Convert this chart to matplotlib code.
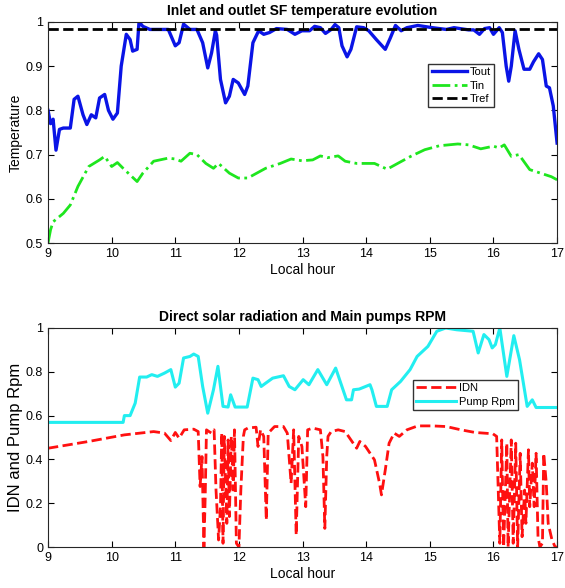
import numpy as np
import matplotlib
matplotlib.use('Agg')
import matplotlib.pyplot as plt

plt.rcParams['font.family'] = ['Liberation Sans', 'DejaVu Sans']

# top panel: outlet / inlet temperature (normalised)
tout_t = [9.0, 9.04, 9.08, 9.125, 9.18, 9.24, 9.35, 9.41, 9.47, 9.55, 9.61, 9.68, 9.75, 9.81,
          9.89, 9.95, 10.02, 10.09, 10.15, 10.23, 10.29, 10.33, 10.40, 10.43, 10.49, 10.60,
          10.89, 11.0, 11.06, 11.13, 11.23, 11.34, 11.43, 11.51, 11.57, 11.63, 11.65, 11.71,
          11.79, 11.85, 11.91, 11.99, 12.09, 12.14, 12.22, 12.31, 12.39, 12.48, 12.59, 12.76,
          12.88, 12.99, 13.11, 13.19, 13.28, 13.36, 13.45, 13.51, 13.57, 13.62, 13.70, 13.76,
          13.85, 13.96, 14.04, 14.16, 14.30, 14.38, 14.46, 14.55, 14.64, 14.81, 15.04, 15.26,
          15.38, 15.61, 15.69, 15.78, 15.86, 15.94, 16.0, 16.09, 16.14, 16.20, 16.24, 16.28,
          16.34, 16.40, 16.48, 16.57, 16.63, 16.71, 16.77, 16.83, 16.88, 16.94, 17.0]
tout_v = [0.80, 0.77, 0.78, 0.71, 0.757, 0.76, 0.76, 0.825, 0.832, 0.79, 0.768, 0.79, 0.783, 0.828,
          0.836, 0.80, 0.78, 0.794, 0.90, 0.972, 0.96, 0.934, 0.938, 1.0, 0.99, 0.983,
          0.983, 0.946, 0.953, 0.995, 0.983, 0.983, 0.953, 0.896, 0.93, 0.98, 0.97, 0.87,
          0.817, 0.832, 0.87, 0.862, 0.836, 0.855, 0.953, 0.98, 0.972, 0.976, 0.985, 0.983,
          0.972, 0.98, 0.98, 0.99, 0.987, 0.974, 0.983, 0.994, 0.987, 0.946, 0.921, 0.938,
          0.989, 0.987, 0.98, 0.96, 0.938, 0.964, 0.992, 0.98, 0.987, 0.992, 0.987, 0.983,
          0.987, 0.982, 0.982, 0.972, 0.985, 0.987, 0.972, 0.987, 0.976, 0.90, 0.866, 0.90,
          0.98, 0.938, 0.893, 0.893, 0.91, 0.928, 0.915, 0.855, 0.851, 0.81, 0.726]

tin_t = [9.0, 9.04, 9.08, 9.24, 9.35, 9.47, 9.64, 9.81, 9.89, 10.0, 10.09, 10.18, 10.40, 10.49,
         10.66, 10.89, 11.0, 11.09, 11.23, 11.34, 11.48, 11.60, 11.68, 11.85, 11.99, 12.14,
         12.42, 12.65, 12.82, 12.99, 13.16, 13.28, 13.39, 13.56, 13.67, 13.85, 14.13, 14.33,
         14.52, 14.70, 14.92, 15.15, 15.44, 15.61, 15.80, 16.0, 16.09, 16.17, 16.28, 16.40,
         16.57, 16.74, 16.91, 17.0]
tin_v = [0.50, 0.53, 0.548, 0.567, 0.586, 0.628, 0.673, 0.688, 0.696, 0.673, 0.682, 0.669, 0.639, 0.658,
         0.685, 0.692, 0.69, 0.685, 0.703, 0.70, 0.68, 0.669, 0.68, 0.658, 0.647, 0.647,
         0.669, 0.68, 0.69, 0.686, 0.688, 0.697, 0.693, 0.697, 0.685, 0.68, 0.68, 0.667,
         0.682, 0.696, 0.711, 0.72, 0.724, 0.722, 0.713, 0.719, 0.715, 0.722, 0.696, 0.70,
         0.666, 0.658, 0.65, 0.643]

tref = 0.985

# bottom panel: pump speed and direct normal irradiance (normalised)
rpm_t = [9.0, 10.18, 10.2, 10.29, 10.37, 10.44, 10.55, 10.63, 10.72, 10.83, 10.93, 11.0, 11.06,
         11.13, 11.23, 11.29, 11.36, 11.43, 11.51, 11.60, 11.67, 11.75, 11.83, 11.87, 11.94,
         12.13, 12.22, 12.30, 12.35, 12.42, 12.53, 12.70, 12.79, 12.88, 13.01, 13.10, 13.24,
         13.38, 13.52, 13.69, 13.77, 13.80, 13.89, 14.06, 14.09, 14.16, 14.33, 14.40, 14.54,
         14.69, 14.80, 14.97, 15.11, 15.25, 15.42, 15.68, 15.76, 15.85, 15.93, 15.98, 16.03,
         16.10, 16.21, 16.32, 16.41, 16.53, 16.61, 16.67, 17.0]
rpm_v = [0.569, 0.569, 0.60, 0.60, 0.657, 0.776, 0.776, 0.787, 0.779, 0.794, 0.81, 0.73, 0.748,
         0.863, 0.87, 0.881, 0.87, 0.733, 0.611, 0.718, 0.825, 0.642, 0.639, 0.695, 0.639,
         0.639, 0.771, 0.764, 0.733, 0.748, 0.771, 0.782, 0.733, 0.718, 0.764, 0.741, 0.81,
         0.741, 0.817, 0.672, 0.672, 0.718, 0.721, 0.741, 0.718, 0.642, 0.642, 0.718, 0.756,
         0.81, 0.87, 0.916, 0.985, 1.0, 0.992, 0.985, 0.886, 0.97, 0.947, 0.909, 0.924,
         1.0, 0.779, 0.965, 0.855, 0.642, 0.672, 0.637, 0.637]

idn_t = [9.0, 9.64, 10.2, 10.66, 10.83, 10.93, 11.0, 11.06, 11.14, 11.29, 11.36, 11.39, 11.42,
         11.45, 11.47, 11.49, 11.53, 11.57, 11.61, 11.64, 11.67, 11.68, 11.71, 11.73, 11.75,
         11.77, 11.81, 11.83, 11.85, 11.88, 11.91, 11.93, 11.96, 12.0, 12.03, 12.07, 12.09,
         12.14, 12.27, 12.30, 12.34, 12.39, 12.43, 12.46, 12.56, 12.70, 12.76, 12.82, 12.86,
         12.90, 12.94, 12.99, 13.05, 13.08, 13.16, 13.28, 13.32, 13.35, 13.38, 13.40, 13.45,
         13.56, 13.67, 13.76, 13.85, 13.90, 13.99, 14.13, 14.21, 14.24, 14.30, 14.36, 14.44,
         14.52, 14.64, 14.81, 15.04, 15.26, 15.49, 15.71, 15.99, 16.05, 16.10, 16.13, 16.16,
         16.21, 16.23, 16.28, 16.31, 16.35, 16.38, 16.42, 16.45, 16.49, 16.51, 16.55, 16.57,
         16.61, 16.64, 16.67, 16.70, 16.73, 16.77, 16.79, 16.83, 16.86, 16.92, 16.97, 17.0]
idn_v = [0.451, 0.482, 0.512, 0.527, 0.52, 0.486, 0.523, 0.497, 0.535, 0.538, 0.527, 0.276, 0.413,
         0.0, 0.23, 0.535, 0.527, 0.52, 0.535, 0.26, 0.093, 0.032, 0.184, 0.52, 0.017,
         0.505, 0.108, 0.489, 0.139, 0.505, 0.26, 0.535, 0.017, 0.0, 0.26, 0.505, 0.535,
         0.543, 0.547, 0.459, 0.535, 0.505, 0.123, 0.52, 0.55, 0.55, 0.52, 0.291, 0.535,
         0.055, 0.505, 0.459, 0.184, 0.535, 0.543, 0.535, 0.413, 0.085, 0.413, 0.505, 0.527,
         0.535, 0.527, 0.489, 0.451, 0.482, 0.459, 0.398, 0.291, 0.238, 0.352, 0.474, 0.52,
         0.505, 0.535, 0.553, 0.553, 0.55, 0.535, 0.523, 0.517, 0.505, 0.017, 0.489, 0.0,
         0.474, 0.0, 0.489, 0.017, 0.474, 0.0, 0.428, 0.047, 0.26, 0.108, 0.444, 0.184,
         0.383, 0.184, 0.428, 0.047, 0.0, 0.017, 0.428, 0.291, 0.108, 0.032, 0.0, 0.0]

hour_ticks = list(range(9, 18))


def style_axes(ax):
    ax.set_xlim(9, 17)
    ax.set_xticks(hour_ticks)
    ax.tick_params(direction='in', top=True, right=True, labelsize=9, length=4, width=0.8)
    for s in ax.spines.values():
        s.set_linewidth(0.8)
        s.set_color('#262626')
    ax.set_xlabel('Local hour', fontsize=10, labelpad=2)


fig = plt.figure(figsize=(5.65, 5.88), dpi=100)

ax1 = fig.add_axes([0.085, 0.5867, 0.901, 0.376])
ax1.plot(tout_t, tout_v, color='#0a14e6', lw=2.4, label='Tout')
ax1.plot(tin_t, tin_v, color='#1ee61e', lw=2.0, ls='-.', label='Tin')
ax1.plot([9, 17], [tref, tref], color='black', lw=2.0, ls='--', label='Tref')
ax1.set_ylim(0.5, 1.0)
ax1.set_yticks([0.5, 0.6, 0.7, 0.8, 0.9, 1.0])
ax1.set_yticklabels(['0.5', '0.6', '0.7', '0.8', '0.9', '1'])
ax1.set_ylabel('Temperature', fontsize=10, labelpad=2)
ax1.set_title('Inlet and outlet SF temperature evolution', fontsize=10, fontweight='bold', pad=5)
style_axes(ax1)
ax1.legend(loc='upper left', bbox_to_anchor=(0.747, 0.81), fontsize=8, fancybox=False,
           edgecolor='#333333', framealpha=1, handlelength=3.2, handletextpad=0.2,
           borderpad=0.3, labelspacing=0.3, borderaxespad=0)

ax2 = fig.add_axes([0.085, 0.0697, 0.901, 0.3725])
ax2.plot(idn_t, idn_v, color='#ff1010', lw=2.0, ls='--', label='IDN')
ax2.plot(rpm_t, rpm_v, color='#22eef0', lw=2.2, label='Pump Rpm')
ax2.set_ylim(0, 1.0)
ax2.set_yticks([0, 0.2, 0.4, 0.6, 0.8, 1.0])
ax2.set_yticklabels(['0', '0.2', '0.4', '0.6', '0.8', '1'])
ax2.set_ylabel('IDN and Pump Rpm', fontsize=12, labelpad=2)
ax2.set_title('Direct solar radiation and Main pumps RPM', fontsize=10, fontweight='bold', pad=5)
style_axes(ax2)
ax2.legend(loc='upper left', bbox_to_anchor=(0.717, 0.763), fontsize=8, fancybox=False,
           edgecolor='#333333', framealpha=1, handlelength=3.6, handletextpad=0.2,
           borderpad=0.3, labelspacing=0.3, borderaxespad=0)

fig.savefig('out.png', dpi=100)
